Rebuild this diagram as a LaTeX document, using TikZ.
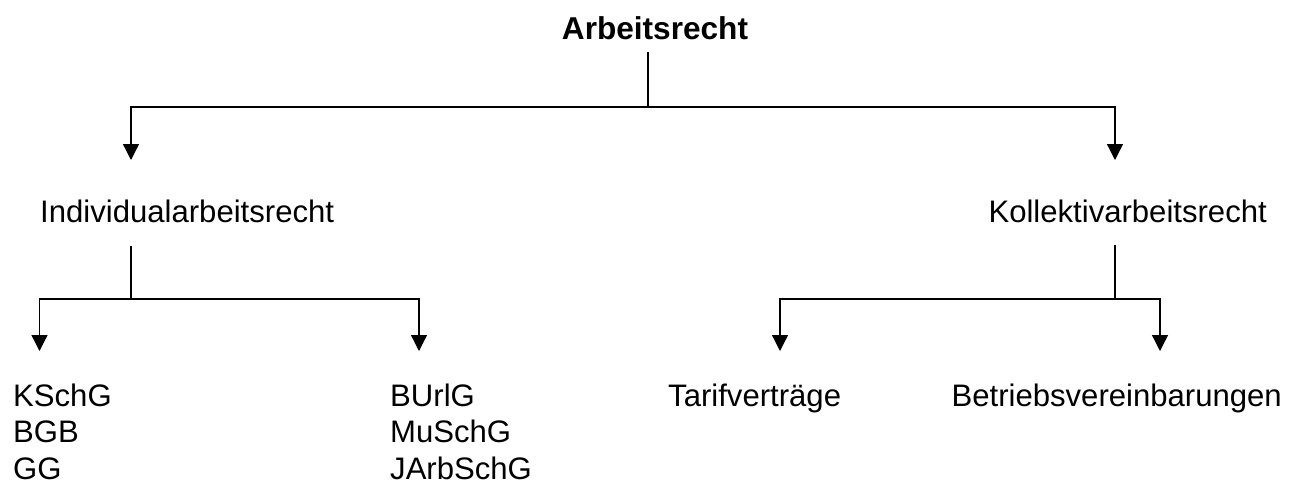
\documentclass[tikz,border=0pt]{standalone}
\usepackage{fontspec}
\setmainfont{Liberation Sans}
\usetikzlibrary{arrows.meta}
\begin{document}
\begin{tikzpicture}[x=1pt,y=-1pt,
  lbl/.style={inner sep=0pt,font=\fontsize{31.1}{36.3}\selectfont,align=left},
  conn/.style={line width=1.3pt},
  arr/.style={conn,-{Triangle[width=16pt,length=16pt]}}]
\useasboundingbox (0,0) rectangle (1314,483);
\node[lbl,anchor=base,font=\fontsize{31.6}{36.3}\selectfont\bfseries] (top) at (655,39) {Arbeitsrecht};
\node[lbl,anchor=base west] (ind) at (40,222) {Individualarbeitsrecht};
\node[lbl,anchor=base east] (kol) at (1267,222) {Kollektivarbeitsrecht};
\node[lbl,anchor=base west,text depth=0pt] (l1) at (13,479) {KSchG\\BGB\\GG};
\node[lbl,anchor=base west,text depth=0pt] (l2) at (390,479) {BUrlG\\MuSchG\\JArbSchG};
\node[lbl,anchor=base west] (tar) at (668,406.7) {Tarifverträge};
\node[lbl,anchor=base east] (bet) at (1282,406.7) {Betriebsvereinbarungen};
% coordinates
\coordinate (t0) at (648,52);
\coordinate (j0) at (648,107);
\coordinate (a1) at (131,160);
\coordinate (a2) at (1115,160);
\coordinate (i0) at (131,246);
\coordinate (j1) at (131,299);
\coordinate (b1) at (39.5,351);
\coordinate (b2) at (419,351);
\coordinate (k0) at (1115,245);
\coordinate (j2) at (1115,299);
\coordinate (c1) at (780,351);
\coordinate (c2) at (1160,351);
\draw[conn] (t0) -- (j0);
\draw[arr] (j0) -| (a1);
\draw[arr] (j0) -| (a2);
\draw[conn] (i0) -- (j1);
\draw[arr] (j1) -| (b1);
\draw[arr] (j1) -| (b2);
\draw[conn] (k0) -- (j2);
\draw[arr] (j2) -| (c1);
\draw[arr] (j2) -| (c2);
\end{tikzpicture}
\end{document}
